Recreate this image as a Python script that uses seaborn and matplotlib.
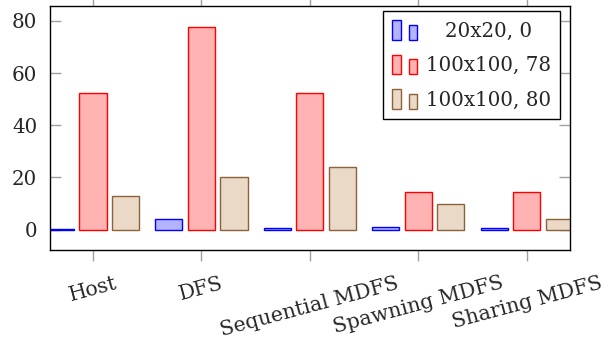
import numpy as np
import pandas as pd
import matplotlib
matplotlib.use("Agg")
import matplotlib.pyplot as plt
import seaborn as sns
from matplotlib.legend_handler import HandlerBase
from matplotlib.patches import Rectangle

# ------------------------------------------------------------------
# data
# ------------------------------------------------------------------
methods = ["Host", "DFS", "Sequential MDFS", "Spawning MDFS", "Sharing MDFS"]
series = ["20x20, 0", "100x100, 78", "100x100, 80"]
vals_20x20_0 = [0.2, 4.1, 0.8, 1.2, 0.5]
vals_100x100_78 = [52.3, 77.8, 52.2, 14.6, 14.6]
vals_100x100_80 = [12.7, 20.0, 24.0, 9.9, 4.1]

fills = ["#b3b3ff", "#ffb3b3", "#ead9c6"]
edges = ["#0000ff", "#ff0000", "#8c6239"]

df = pd.DataFrame({
    "method": methods * 3,
    "series": [series[0]] * 5 + [series[1]] * 5 + [series[2]] * 5,
    "value": vals_20x20_0 + vals_100x100_78 + vals_100x100_80,
})

FS = 14.3
sns.set_style("ticks")
plt.rcParams["font.family"] = ["DejaVu Serif"]
plt.rcParams["font.size"] = FS

fig = plt.figure(figsize=(6.13, 3.45), dpi=100)
ax = fig.add_axes([0.081, 0.2754, 0.849, 0.708])

sns.barplot(data=df, x="method", y="value", hue="series", order=methods,
            hue_order=series, palette=fills, saturation=1, width=0.9,
            gap=1 / 6, ax=ax, legend=False)

for cont, ec in zip(ax.containers, edges):
    for bar in cont:
        bar.set_edgecolor(ec)
        bar.set_linewidth(1.0)

ax.set_xlim(-0.4, 4.4)
ax.set_ylim(-7.8, 85.8)
ax.set_yticks([0, 20, 40, 60, 80])
ax.set_xlabel("")
ax.set_ylabel("")

for s in ax.spines.values():
    s.set_color("black")
    s.set_linewidth(1.0)

ax.tick_params(axis="y", direction="in", length=8, width=1, color="#a0a0a0",
               left=True, right=True, pad=9, labelsize=FS)
ax.tick_params(axis="x", direction="out", length=8, width=1, color="#a0a0a0",
               bottom=True, top=True, pad=9, labelsize=FS + 0.5)
for lab in ax.get_xticklabels():
    lab.set_rotation(15)
    lab.set_ha("center")
    lab.set_va("top")


class TwoBars(HandlerBase):
    def create_artists(self, legend, orig, xd, yd, w, h, fontsize, trans):
        fc = orig.get_facecolor()
        ec = orig.get_edgecolor()
        bw = w * 0.33
        r1 = Rectangle((-xd, -yd), bw, h, facecolor=fc, edgecolor=ec, lw=1, transform=trans)
        r2 = Rectangle((-xd + w - bw, -yd), bw, h * 0.77, facecolor=fc, edgecolor=ec, lw=1, transform=trans)
        return [r1, r2]


handles = [Rectangle((0, 0), 1, 1, facecolor=f, edgecolor=e) for f, e in zip(fills, edges)]
leg = ax.legend(handles, series, loc="upper right", bbox_to_anchor=(0.981, 0.978),
                frameon=True, fancybox=False, edgecolor="black", framealpha=1,
                fontsize=FS, handler_map={Rectangle: TwoBars()},
                handlelength=1.25, handleheight=1.15, handletextpad=0.45,
                labelspacing=0.7, borderpad=0.45, borderaxespad=0)
leg.get_frame().set_linewidth(1.0)

# centre the legend labels in their column, like pgfplots does
fig.canvas.draw()
r = fig.canvas.get_renderer()
widths = [t.get_window_extent(r).width for t in leg.get_texts()]
for t, w in zip(leg.get_texts(), widths):
    t.set_x((max(widths) - w) / 2)

fig.savefig("out.png", dpi=100)
